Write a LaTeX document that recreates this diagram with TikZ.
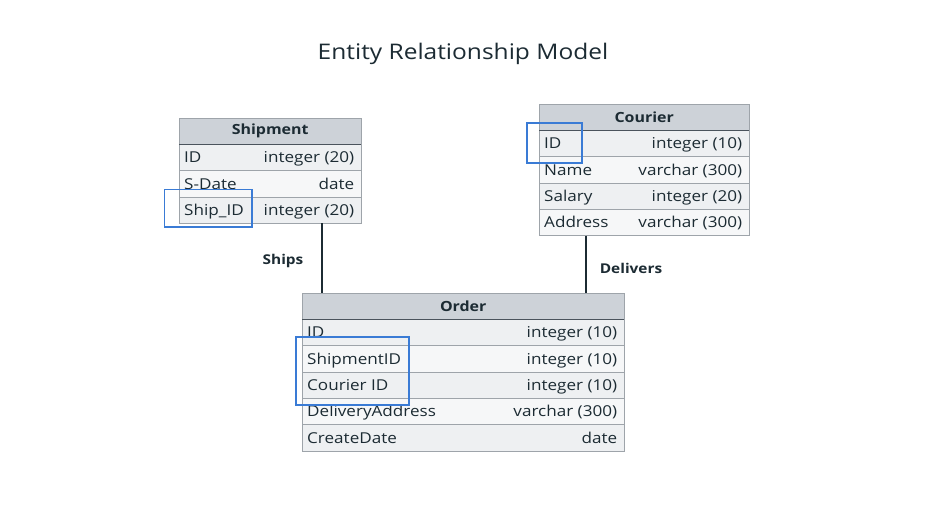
\documentclass[tikz,border=0pt]{standalone}
\usepackage{fontspec}
\setmainfont[FakeStretch=1.14]{Open Sans}
\usetikzlibrary{calc}
\definecolor{txt}{HTML}{1C2B33}
\definecolor{hdrfill}{HTML}{CDD2D8}
\definecolor{rowA}{HTML}{EEF0F2}
\definecolor{rowB}{HTML}{F6F7F8}
\definecolor{bord}{HTML}{9EA4AA}
\definecolor{hdrline}{HTML}{4A535C}
\definecolor{hl}{HTML}{3A7BD5}
\begin{document}
\begin{tikzpicture}[x=1pt,y=-1pt,
  tblhdr/.style={draw=bord, fill=hdrfill, minimum width=#1, minimum height=26.5pt, inner sep=0pt, anchor=north west, text=txt, font=\bfseries\fontsize{14}{17}\selectfont},
  tblrowA/.style={draw=bord, fill=rowA, minimum width=#1, minimum height=26.3pt, inner sep=0pt, anchor=north west},
  tblrowB/.style={draw=bord, fill=rowB, minimum width=#1, minimum height=26.3pt, inner sep=0pt, anchor=north west},
  lft/.style={anchor=base west, inner sep=0pt, xshift=5pt, yshift=-5.5pt, text=txt, font=\fontsize{15}{18}\selectfont},
  rgt/.style={anchor=base east, inner sep=0pt, xshift=-7pt, yshift=-5.5pt, text=txt, font=\fontsize{15}{18}\selectfont},
  hlbox/.style={draw=hl, line width=1.4pt},
  rel/.style={draw=txt, line width=1.2pt},
  rellabel/.style={text=txt, font=\bfseries\fontsize{13.5}{16}\selectfont, inner sep=0pt}
]
\useasboundingbox (0,0) rectangle (925,504);
\fill[white] (0,0) rectangle (925,504);

\node[text=txt, font=\fontsize{21.5}{26}\selectfont, inner sep=0pt, anchor=base] (title) at (463,59) {Entity Relationship Model};

% Shipment
\node[tblrowA=182pt] (s1) at (179,144) {};
\node[tblrowB=182pt] (s2) at (179,170.3) {};
\node[tblrowA=182pt] (s3) at (179,196.6) {};
\node[tblhdr=182pt] (sh) at (179,117.5) {Shipment};
\draw[hdrline, line width=1.2pt] (sh.south west) -- (sh.south east);
\node[lft] (s1l) at (s1.west) {ID};
\node[rgt] (s1r) at (s1.east) {integer (20)};
\node[lft] (s2l) at (s2.west) {S-Date};
\node[rgt] (s2r) at (s2.east) {date};
\node[lft] (s3l) at (s3.west) {Ship\_ID};
\node[rgt] (s3r) at (s3.east) {integer (20)};

% Courier
\node[tblrowA=210pt] (c1) at (539,130) {};
\node[tblrowB=210pt] (c2) at (539,156.3) {};
\node[tblrowA=210pt] (c3) at (539,182.6) {};
\node[tblrowB=210pt] (c4) at (539,208.9) {};
\node[tblhdr=210pt] (ch) at (539,103.5) {Courier};
\draw[hdrline, line width=1.2pt] (ch.south west) -- (ch.south east);
\node[lft] (c1l) at (c1.west) {ID};
\node[rgt] (c1r) at (c1.east) {integer (10)};
\node[lft] (c2l) at (c2.west) {Name};
\node[rgt] (c2r) at (c2.east) {varchar (300)};
\node[lft] (c3l) at (c3.west) {Salary};
\node[rgt] (c3r) at (c3.east) {integer (20)};
\node[lft] (c4l) at (c4.west) {Address};
\node[rgt] (c4r) at (c4.east) {varchar (300)};

% Order
\node[tblrowA=322pt] (o1) at (302,319) {};
\node[tblrowB=322pt] (o2) at (302,345.3) {};
\node[tblrowA=322pt] (o3) at (302,371.6) {};
\node[tblrowB=322pt] (o4) at (302,397.9) {};
\node[tblrowA=322pt] (o5) at (302,424.2) {};
\node[tblhdr=322pt] (oh) at (302,292.5) {Order};
\draw[hdrline, line width=1.2pt] (oh.south west) -- (oh.south east);
\node[lft] (o1l) at (o1.west) {ID};
\node[rgt] (o1r) at (o1.east) {integer (10)};
\node[lft] (o2l) at (o2.west) {ShipmentID};
\node[rgt] (o2r) at (o2.east) {integer (10)};
\node[lft] (o3l) at (o3.west) {Courier ID};
\node[rgt] (o3r) at (o3.east) {integer (10)};
\node[lft] (o4l) at (o4.west) {DeliveryAddress};
\node[rgt] (o4r) at (o4.east) {varchar (300)};
\node[lft] (o5l) at (o5.west) {CreateDate};
\node[rgt] (o5r) at (o5.east) {date};

% highlight boxes
\draw[hlbox] (164.5,189.5) rectangle (252,227);
\draw[hlbox] (527,123) rectangle (582,163);
\draw[hlbox] (296,337) rectangle (409,405);

% relationships
\coordinate (shipx) at (322,0);
\coordinate (delx) at (586,0);
\draw[rel] (s3.south -| shipx) -- (oh.north -| shipx);
\draw[rel] (c4.south -| delx) -- (oh.north -| delx);
\node[rellabel] (ships) at (283,261) {Ships};
\node[rellabel] (delivers) at (631,268) {Delivers};
\end{tikzpicture}
\end{document}
